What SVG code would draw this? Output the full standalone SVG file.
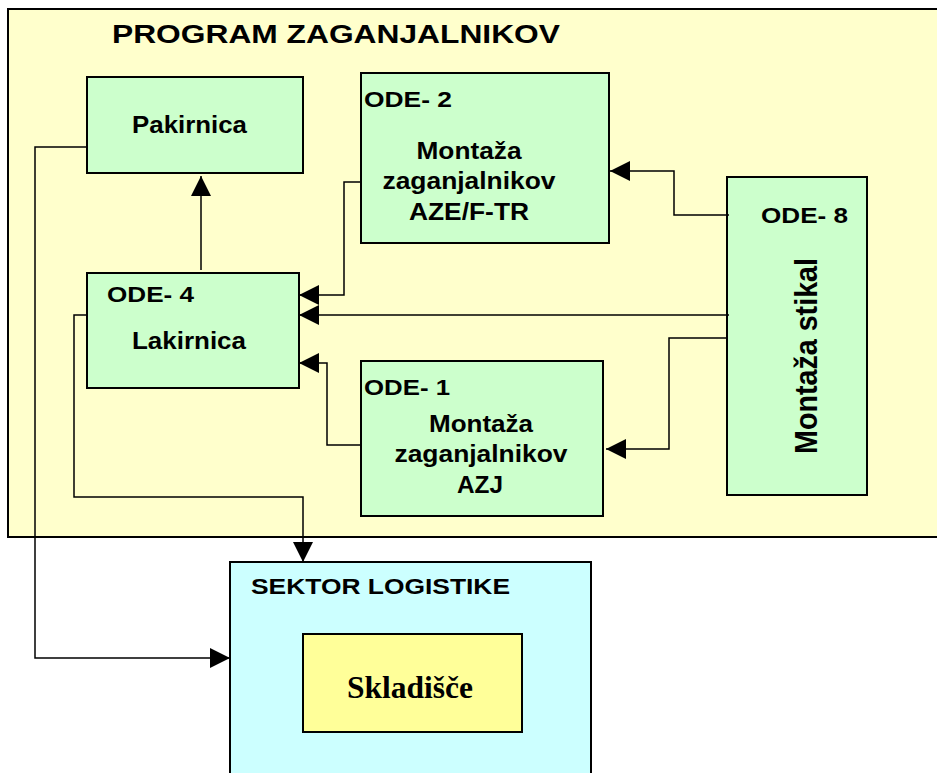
<svg xmlns="http://www.w3.org/2000/svg" width="937" height="773" viewBox="0 0 937 773">
<defs>
<style>
.box{stroke:#000;stroke-width:2}
.green{fill:#CCFFCC}
.t{font-family:"Liberation Sans",Arial,sans-serif;font-weight:bold;fill:#000}
.c{text-anchor:middle}
.conn path{fill:none;stroke:#000;stroke-width:1.5}
.arr{marker-end:url(#ah)}
</style>
<marker id="ah" markerUnits="userSpaceOnUse" markerWidth="20" markerHeight="20" refX="20" refY="10" orient="auto" viewBox="0 0 20 20">
<path d="M0,0 L20,10 L0,20 z" fill="#000"/>
</marker>
</defs>
<rect x="0" y="0" width="937" height="773" fill="#fff"/>
<g id="program">
<rect class="box" x="8" y="9" width="940" height="528" fill="#FFFFCC"/>
<text class="t" x="112" y="43" font-size="25" textLength="448" lengthAdjust="spacingAndGlyphs">PROGRAM ZAGANJALNIKOV</text>
</g>
<g id="sektor">
<rect class="box" x="230" y="562" width="361" height="230" fill="#CCFFFF"/>
<text class="t" x="251" y="594" font-size="22" textLength="259" lengthAdjust="spacingAndGlyphs">SEKTOR LOGISTIKE</text>
</g>
<g id="skladisce">
<rect class="box" x="303" y="634" width="219" height="98" fill="#FFFF99"/>
<text x="410" y="698" font-family="'Liberation Serif','Times New Roman',serif" font-weight="bold" font-size="31" text-anchor="middle" textLength="126" lengthAdjust="spacingAndGlyphs">Skladišče</text>
</g>
<g id="pakirnica">
<rect class="box green" x="87" y="77" width="216" height="96"/>
<text class="t" x="132" y="133" font-size="23" textLength="115" lengthAdjust="spacingAndGlyphs">Pakirnica</text>
</g>
<g id="ode4">
<rect class="box green" x="87" y="273" width="212" height="115"/>
<text class="t" x="107" y="302" font-size="22" textLength="87" lengthAdjust="spacingAndGlyphs">ODE- 4</text>
<text class="t" x="132" y="349" font-size="23" textLength="114" lengthAdjust="spacingAndGlyphs">Lakirnica</text>
</g>
<g id="ode2">
<rect class="box green" x="361" y="73" width="248" height="170"/>
<text class="t" x="364" y="107" font-size="22" textLength="88" lengthAdjust="spacingAndGlyphs">ODE- 2</text>
<text class="t c" x="469" y="159" font-size="24" textLength="105" lengthAdjust="spacingAndGlyphs">Montaža</text>
<text class="t c" x="469" y="189" font-size="24" textLength="173" lengthAdjust="spacingAndGlyphs">zaganjalnikov</text>
<text class="t c" x="469" y="220" font-size="24" textLength="120" lengthAdjust="spacingAndGlyphs">AZE/F-TR</text>
</g>
<g id="ode1">
<rect class="box green" x="361" y="361" width="242" height="155"/>
<text class="t" x="364" y="395" font-size="22" textLength="86" lengthAdjust="spacingAndGlyphs">ODE- 1</text>
<text class="t c" x="481" y="432" font-size="24" textLength="104" lengthAdjust="spacingAndGlyphs">Montaža</text>
<text class="t c" x="481" y="462" font-size="24" textLength="173" lengthAdjust="spacingAndGlyphs">zaganjalnikov</text>
<text class="t c" x="480" y="493" font-size="24" textLength="46" lengthAdjust="spacingAndGlyphs">AZJ</text>
</g>
<g id="ode8">
<rect class="box green" x="727" y="177" width="140" height="318"/>
<text class="t" x="761" y="223" font-size="22" textLength="87" lengthAdjust="spacingAndGlyphs">ODE- 8</text>
<text class="t c" transform="translate(817,356) rotate(-90)" x="0" y="0" font-size="32" textLength="196" lengthAdjust="spacingAndGlyphs">Montaža stikal</text>
</g>
<g id="connectors" class="conn">
<path class="arr" d="M201,270 V176"/>
<path class="arr" d="M361,182 H344 V295 H299"/>
<path class="arr" d="M729,315 H299"/>
<path class="arr" d="M361,445 H327 V363 H299"/>
<path class="arr" d="M729,215 H674 V171 H610"/>
<path class="arr" d="M727,338 H669 V449 H606"/>
<path class="arr" d="M87,147 H35 V658 H230"/>
<path class="arr" d="M87,315 H74 V497 H303 V562"/>
</g>
</svg>
